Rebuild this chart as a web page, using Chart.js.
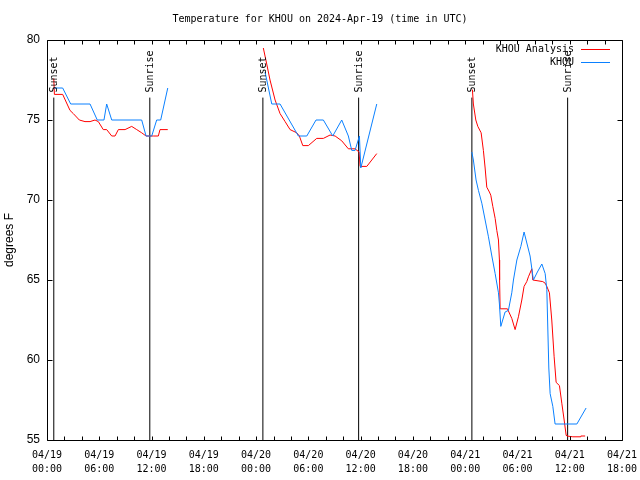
<!DOCTYPE html>
<html>
<head>
<meta charset="utf-8">
<script src="https://cdn.jsdelivr.net/npm/chart.js@4.4.1/dist/chart.umd.min.js"></script>
<style>
  html, body { margin: 0; padding: 0; background: #fff; }
  #grafico { display: block; }
</style>
</head>
<body>
<canvas id="grafico" width="640" height="480"></canvas>
<script>
// ==========================================
// DATOS (horas desde 04/19 00:00 UTC, temperatura en °F)
// null = hueco entre tramos
// ==========================================
const analysisHours = [
  0.78, 0.85, 1.80, 2.64, 3.02, 3.71, 4.36, 4.94, 5.51, 5.89, 6.46, 6.85, 7.43, 7.81, 8.19, 8.96, 9.72, 10.30, 10.87, 11.37, 12.20, 12.78, 12.97, 13.86,
  null,
  24.83, 25.22, 25.60, 26.18, 26.75, 27.33, 27.90, 28.67, 28.97, 29.36, 30.00, 30.96, 31.72, 32.49, 33.07, 33.83, 34.59, 35.36, 35.82, 35.94, 36.71, 37.85,
  null,
  48.83, 48.94, 49.22, 49.45, 49.83, 50.09, 50.29, 50.48, 50.78, 50.94, 51.17, 51.44, 51.63, 51.82, 51.93, 51.95, 52.01, 52.85, 53.35, 53.73, 54.11, 54.50,
  54.76, 55.07, 55.26, 55.65, 55.76, 56.91, 57.18, 57.37, 57.67, 57.94, 58.21, 58.44, 58.82, 59.09, 59.36, 59.59, 59.67, 60.36, 61.19, 61.27, 61.77
];
const analysisTemps = [
  77.6, 76.6, 76.6, 75.6, 75.4, 75.0, 74.9, 74.9, 75.0, 74.9, 74.4, 74.4, 74.0, 74.0, 74.4, 74.4, 74.6, 74.4, 74.2, 74.0, 74.0, 74.0, 74.4, 74.4,
  null,
  79.5, 78.5, 77.5, 76.25, 75.4, 74.9, 74.4, 74.2, 74.0, 73.4, 73.4, 73.85, 73.85, 74.06, 74.0, 73.7, 73.2, 73.2, 73.0, 72.1, 72.1, 72.9,
  null,
  76.9, 76.0, 75.0, 74.6, 74.2, 73.1, 72.0, 70.8, 70.5, 70.3, 69.6, 68.85, 68.1, 67.5, 66.25, 65.0, 63.2, 63.2, 62.6, 61.9, 62.7, 63.75,
  64.6, 64.9, 65.2, 65.7, 65.0, 64.9, 64.8, 64.6, 64.2, 62.5, 60.2, 58.6, 58.4, 57.3, 56.25, 55.3, 55.25, 55.2, 55.2, 55.25, 55.25
];

const obsHours = [
  0.80, 1.80, 2.72, 4.94, 5.77, 6.54, 6.85, 7.43, 10.87, 11.37, 12.02, 12.59, 13.05, 13.86,
  null,
  25.03, 25.80, 26.75, 28.85, 29.82, 30.88, 31.72, 32.80, 33.83, 34.59, 34.98, 35.36, 35.86, 36.02, 37.85,
  null,
  48.76, 48.94, 49.25, 49.52, 49.91, 50.29, 50.67, 51.06, 51.44, 51.82, 51.93, 52.09, 52.58, 52.96, 53.35, 53.54, 53.93, 54.39, 54.76,
  55.45, 55.83, 56.29, 56.80, 57.18, 57.37, 57.60, 57.75, 58.06, 58.32, 60.82, 61.88
];
const obsTemps = [
  77.0, 77.0, 76.0, 76.0, 75.0, 75.0, 76.0, 75.0, 75.0, 74.0, 74.0, 75.0, 75.0, 77.0,
  null,
  78.0, 76.0, 76.0, 74.0, 74.0, 75.0, 75.0, 74.0, 75.0, 74.0, 73.1, 73.1, 74.0, 72.0, 76.0,
  null,
  73.0, 72.5, 71.25, 70.6, 69.8, 68.75, 67.7, 66.5, 65.4, 64.2, 63.5, 62.1, 63.0, 63.1, 64.2, 65.0, 66.25, 67.1, 68.0,
  66.5, 65.0, 65.5, 66.0, 65.4, 64.4, 59.5, 57.9, 57.1, 56.0, 56.0, 57.0
];

// Salida / puesta de sol
const sunHours = [0.78, 11.8, 24.78, 35.77, 48.77, 59.76];
const sunLabels = ['Sunset', 'Sunrise', 'Sunset', 'Sunrise', 'Sunset', 'Sunrise'];
const sunLineTop = 76.4;

// Ejes
const xTickHours = [0, 6, 12, 18, 24, 30, 36, 42, 48, 54, 60, 66];
const xTickDates = ['04/19', '04/19', '04/19', '04/19', '04/20', '04/20', '04/20', '04/20', '04/21', '04/21', '04/21', '04/21'];
const xTickTimes = ['00:00', '06:00', '12:00', '18:00', '00:00', '06:00', '12:00', '18:00', '00:00', '06:00', '12:00', '18:00'];
const yTicks = [55, 60, 65, 70, 75, 80];

const titulo = 'Temperature for KHOU on 2024-Apr-19 (time in UTC)';
const tituloY = 'degrees F';
const ordenLeyenda = ['KHOU Analysis', 'KHOU'];

const MONO = '"DejaVu Sans Mono", monospace';
const SANS = '"Liberation Sans", Arial, sans-serif';

const toPoints = (xs, ys) => xs.map((x, i) => ({ x: x === null ? (xs[i - 1] + 0.01) : x, y: ys[i] }));

const sunPoints = [];
sunHours.forEach((h, i) => {
  sunPoints.push({ x: h, y: 55 }, { x: h, y: sunLineTop });
  if (i < sunHours.length - 1) sunPoints.push({ x: h + 0.01, y: null });
});

// ==========================================
// PLUGIN: marco, ticks internos, títulos, leyenda, etiquetas sol
// ==========================================
const decoracion = {
  id: 'decoracion',
  afterDraw(chart) {
    const ctx = chart.ctx;
    const a = chart.chartArea;
    const sx = chart.scales.x, sy = chart.scales.y;
    const L = Math.round(a.left) + 0.5, R = Math.round(a.right) + 0.5;
    const T = Math.round(a.top) + 0.5, B = Math.round(a.bottom) + 0.5;

    ctx.save();
    ctx.strokeStyle = '#000';
    ctx.lineWidth = 1;
    ctx.beginPath();
    // ticks cada 2 horas (arriba y abajo)
    for (let h = 0; h <= 66; h += 2) {
      const px = Math.round(sx.getPixelForValue(h)) + 0.5;
      ctx.moveTo(px, B); ctx.lineTo(px, B - 4);
      ctx.moveTo(px, T); ctx.lineTo(px, T + 4);
    }
    yTicks.forEach(v => {
      const py = Math.round(sy.getPixelForValue(v)) + 0.5;
      ctx.moveTo(L, py); ctx.lineTo(L + 5, py);
      ctx.moveTo(R, py); ctx.lineTo(R - 5, py);
    });
    ctx.rect(L, T, R - L, B - T);
    ctx.stroke();

    // Título
    ctx.fillStyle = '#000';
    ctx.font = '10px ' + MONO;
    ctx.textAlign = 'center';
    ctx.textBaseline = 'middle';
    ctx.fillText(titulo, 320, 19);

    // Etiquetas Sunset / Sunrise
    sunHours.forEach((h, i) => {
      const px = Math.round(sx.getPixelForValue(h));
      const py = sy.getPixelForValue(sunLineTop) - 5;
      ctx.save();
      ctx.translate(px, py);
      ctx.rotate(-Math.PI / 2);
      ctx.textAlign = 'left';
      ctx.textBaseline = 'middle';
      ctx.fillText(sunLabels[i], 0, 0);
      ctx.restore();
    });

    // Leyenda
    ordenLeyenda.forEach((nombre, i) => {
      const d = chart.data.datasets.find(ds => ds.label === nombre);
      const y = 49 + i * 13;
      ctx.textAlign = 'right';
      ctx.fillStyle = '#000';
      ctx.fillText(d.label, 574, y);
      ctx.strokeStyle = d.borderColor;
      ctx.beginPath();
      ctx.moveTo(581, Math.round(y) + 0.5);
      ctx.lineTo(610, Math.round(y) + 0.5);
      ctx.stroke();
    });

    // Título eje Y
    ctx.save();
    ctx.translate(10, (a.top + a.bottom) / 2);
    ctx.rotate(-Math.PI / 2);
    ctx.font = '12px ' + SANS;
    ctx.fillStyle = '#000';
    ctx.textAlign = 'center';
    ctx.textBaseline = 'middle';
    ctx.fillText(tituloY, 0, 0);
    ctx.restore();

    ctx.restore();
  }
};

new Chart(document.getElementById('grafico').getContext('2d'), {
  type: 'line',
  data: {
    datasets: [
      { label: 'KHOU', data: toPoints(obsHours, obsTemps), borderColor: '#0a80ff', borderWidth: 1, pointRadius: 0, spanGaps: false, tension: 0 },
      { label: 'KHOU Analysis', data: toPoints(analysisHours, analysisTemps), borderColor: '#ff0000', borderWidth: 1, pointRadius: 0, spanGaps: false, tension: 0 },
      { label: 'sol', data: sunPoints, borderColor: '#000', borderWidth: 1, pointRadius: 0, spanGaps: false, tension: 0 }
    ]
  },
  options: {
    responsive: false,
    animation: false,
    layout: { padding: { top: 40, right: 18, left: 0, bottom: 0 } },
    plugins: { legend: { display: false }, tooltip: { enabled: false }, title: { display: false } },
    scales: {
      x: {
        type: 'linear', min: 0, max: 66,
        afterBuildTicks: s => { s.ticks = xTickHours.map(v => ({ value: v })); },
        afterFit: s => { s.height = 40; s.paddingLeft = 0; s.paddingRight = 0; },
        grid: { display: false, drawTicks: false },
        border: { display: false },
        ticks: {
          autoSkip: false, maxRotation: 0, padding: 8, color: '#000',
          font: { family: MONO, size: 10, lineHeight: 1.4 },
          callback: (v) => { const i = xTickHours.indexOf(v); return [xTickDates[i], xTickTimes[i]]; }
        }
      },
      y: {
        min: 55, max: 80,
        afterBuildTicks: s => { s.ticks = yTicks.map(v => ({ value: v })); },
        afterFit: s => { s.width = 47; s.paddingTop = 0; s.paddingBottom = 0; },
        grid: { display: false, drawTicks: false },
        border: { display: false },
        ticks: { padding: 7, color: '#000', font: { family: SANS, size: 12 } }
      }
    }
  },
  plugins: [decoracion]
});
</script>
</body>
</html>
